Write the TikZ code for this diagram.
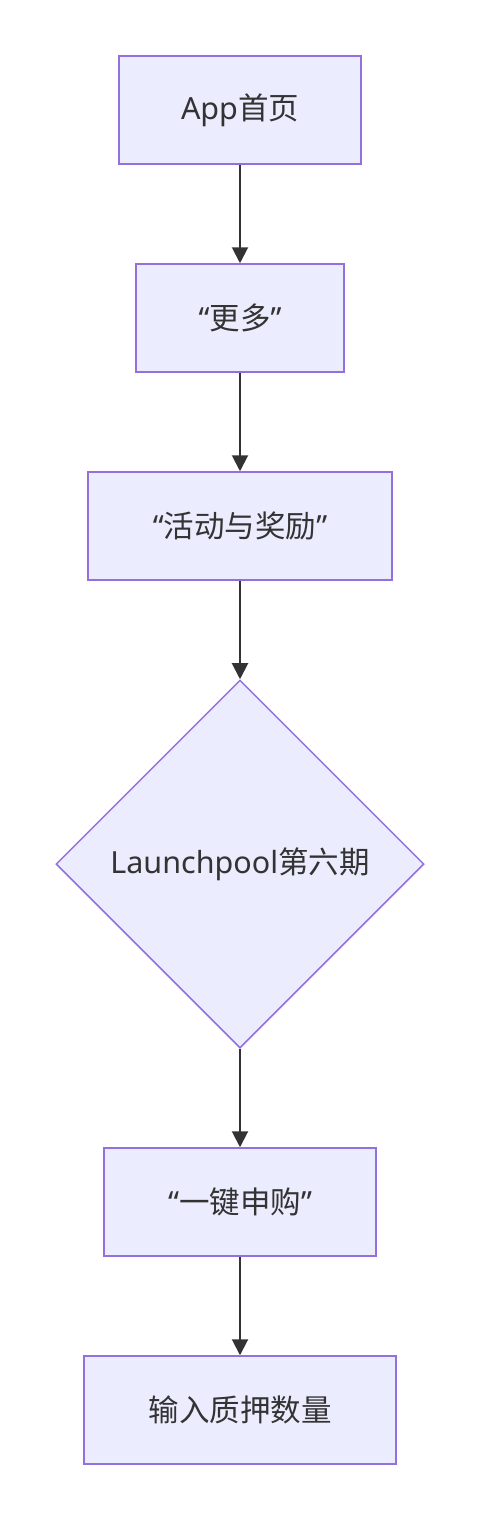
\documentclass[tikz,border=0pt]{standalone}
\usepackage{fontspec}
\setmainfont{Noto Sans}
\newfontfamily\cjk{Noto Sans CJK SC}
\usetikzlibrary{shapes.geometric,arrows.meta}
\definecolor{nodefill}{HTML}{ECECFF}
\definecolor{nodeline}{HTML}{9370DB}
\definecolor{txt}{HTML}{333333}
\begin{document}
\begin{tikzpicture}[x=1pt,y=-1pt,
  box/.style={draw=nodeline,fill=nodefill,line width=1.5pt,inner sep=0pt,
    minimum height=108pt,text=txt,font=\fontsize{30.5}{36}\selectfont},
  dia/.style={diamond,aspect=1,draw=nodeline,fill=nodefill,line width=1.5pt,inner sep=0pt,
    minimum width=368pt,minimum height=368pt,text=txt,font=\fontsize{30.5}{36}\selectfont},
  arr/.style={draw=txt,line width=2pt,-{Triangle[length=16pt,width=16pt]}}]
\useasboundingbox (0,0) rectangle (480,1520);
\node[box,minimum width=242pt] (a) at (240,110) {App{\cjk 首页}};
\node[box,minimum width=208pt] (b) at (240,318) {“{\cjk 更多}”};
\node[box,minimum width=304pt] (c) at (240,526) {“{\cjk 活动与奖励}”};
\node[dia] (d) at (240,864) {Launchpool{\cjk 第六期}};
\node[box,minimum width=272pt] (e) at (240,1202) {“{\cjk 一键申购}”};
\node[box,minimum width=312pt] (f) at (240,1410) {{\cjk 输入质押数量}};
\draw[arr] (a) -- (b);
\draw[arr] (b) -- (c);
\draw[arr] (c) -- (d);
\draw[arr] (d) -- (e);
\draw[arr] (e) -- (f);
\end{tikzpicture}
\end{document}
